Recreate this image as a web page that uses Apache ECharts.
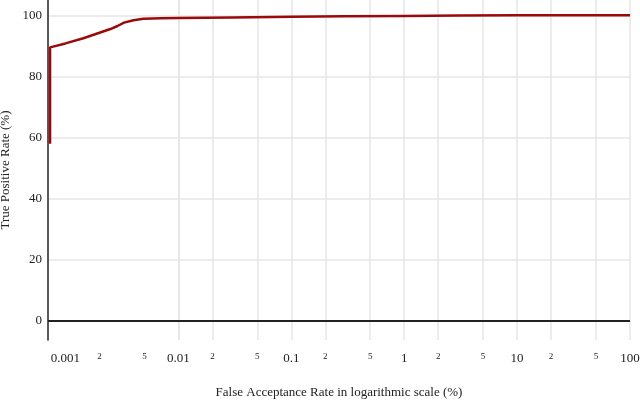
<!DOCTYPE html><html><head><meta charset="utf-8"><script src="https://cdn.jsdelivr.net/npm/echarts@6/dist/echarts.min.js"></script></head><body style="margin:0"><div id="c" style="width:640px;height:403px"></div><script>
const farValues=[0.00073,0.00073,0.00074,0.001,0.00144,0.002,0.0025,0.00289,0.0033,0.004,0.0049,0.007,0.01,0.03,0.1,0.3,1,3,10,30,100];
const tprValues=[58,89.5,89.8,90.8,92.5,94.3,95.5,96.5,97.6,98.4,98.9,99.0,99.1,99.3,99.5,99.7,99.8,99.9,100,100,100];
const xTicks=[0.001,0.002,0.005,0.01,0.02,0.05,0.1,0.2,0.5,1,2,5,10,20,50,100];
const xTickLabels=['0.001','2','5','0.01','2','5','0.1','2','5','1','2','5','10','2','5','100'];
const xTickMinor=[0,1,1,0,1,1,0,1,1,0,1,1,0,1,1,0];
const yTicks=[0,20,40,60,80,100];
const c=echarts.init(document.getElementById('c'));
const F='Liberation Serif';
c.setOption({animation:false,
grid:{left:48,right:10,top:0,bottom:63,containLabel:false,outerBoundsMode:'none'},
xAxis:{type:'log',min:0.0007,max:100,
 axisLine:{show:false},axisTick:{show:false},splitLine:{show:false},
 axisLabel:{customValues:xTicks,margin:12,fontFamily:F,color:'#222',
  formatter:v=>{const i=xTicks.findIndex(t=>Math.abs(t-v)/t<1e-6);const s=xTickLabels[i];return xTickMinor[i]?'{s|'+s+'}':s;},
  fontSize:13,rich:{s:{fontSize:9,fontFamily:F,color:'#222',padding:[0,0,8,0]}}},
 name:'False Acceptance Rate in logarithmic scale (%)',nameLocation:'middle',nameGap:46,
 nameTextStyle:{fontFamily:F,fontSize:13,color:'#222'}},
yAxis:{type:'value',min:-6.2,max:105,
 axisLine:{show:true,lineStyle:{color:'#222',width:1.5}},axisTick:{show:false},splitLine:{show:false},
 axisLabel:{customValues:yTicks,fontFamily:F,fontSize:13,color:'#222',margin:6},
 name:'True Positive Rate (%)',nameLocation:'middle',nameGap:30,nameRotate:90,
 nameTextStyle:{fontFamily:F,fontSize:13,color:'#222'}},
series:[
{type:'line',data:[],silent:true,z:0,
 markLine:{symbol:'none',silent:true,z:0,label:{show:false},lineStyle:{color:'#e6e6e6',type:'solid',width:1.5},
  data:xTicks.map(v=>({xAxis:v})).concat(yTicks.slice(1).map(v=>({yAxis:v})))}},
{type:'line',data:[],silent:true,z:1,
 markLine:{symbol:'none',silent:true,z:1,label:{show:false},lineStyle:{color:'#222',type:'solid',width:2},data:[{yAxis:0}]}},
{type:'line',showSymbol:false,z:5,data:farValues.map((x,i)=>[x,tprValues[i]]),
 lineStyle:{color:'#9b0a0a',width:2.5},itemStyle:{color:'#9b0a0a'}}
]});
</script></body></html>
